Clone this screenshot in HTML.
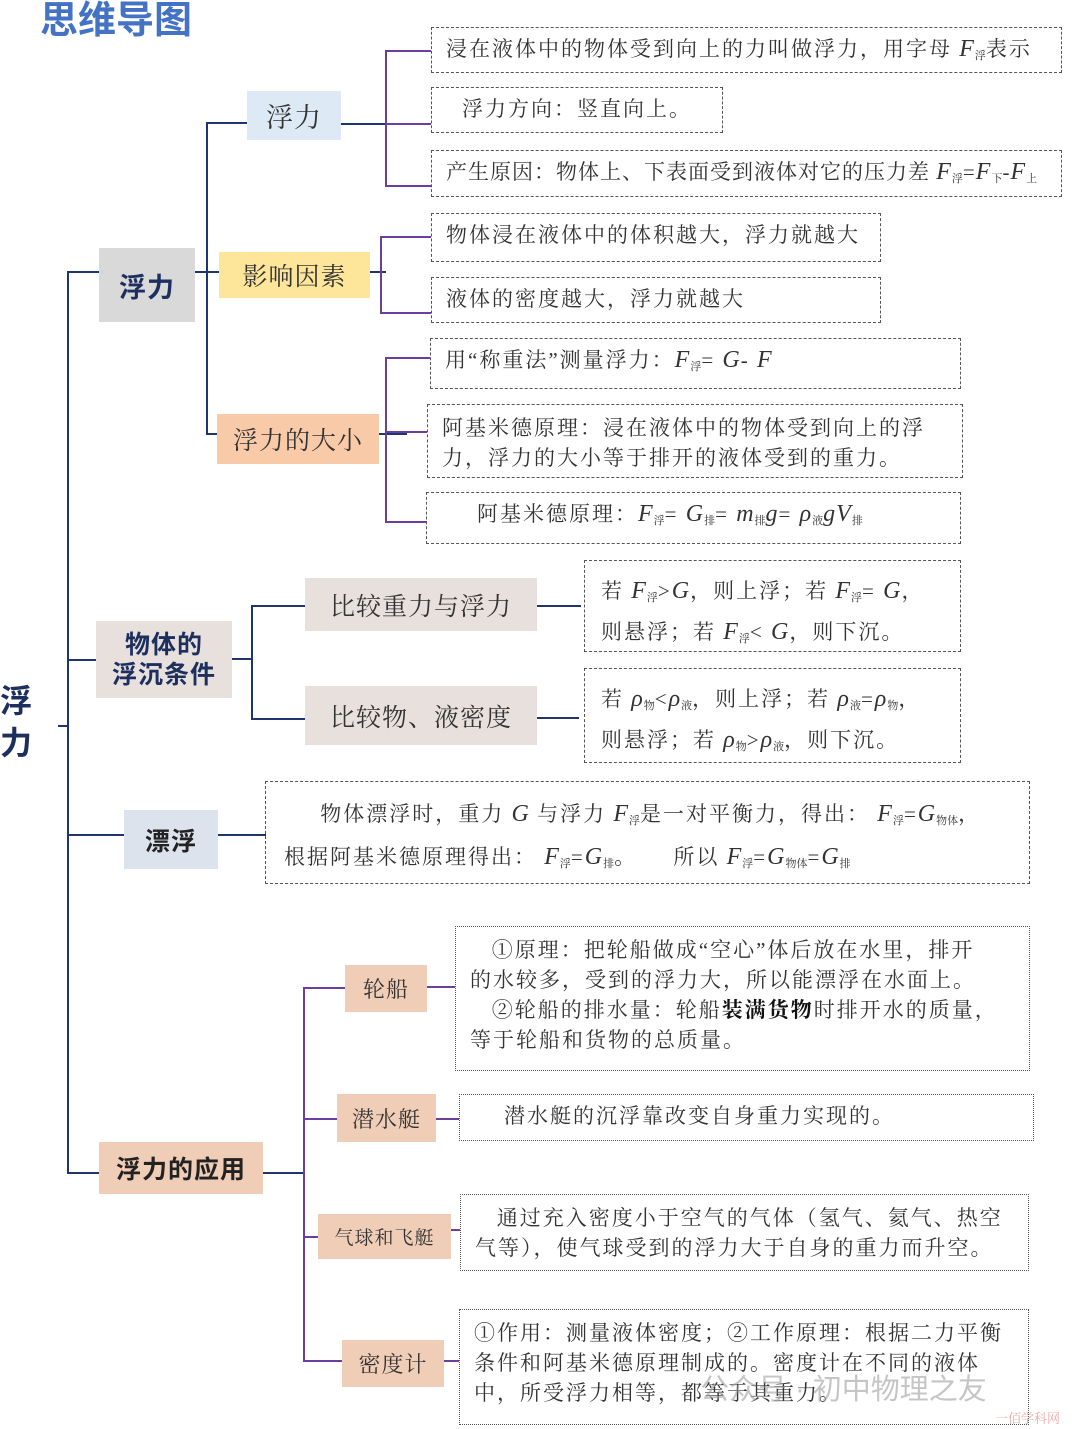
<!DOCTYPE html>
<html><head><meta charset="utf-8">
<style>
body{margin:0;width:1080px;height:1429px;background:#fff;position:relative;overflow:hidden;font-family:"Liberation Serif","Noto Serif CJK SC",serif;color:#333}
div{position:absolute;box-sizing:border-box}
.n{display:flex;align-items:center;justify-content:center;font-size:25px;color:#333;white-space:nowrap;letter-spacing:1px}
.b{font-family:"Liberation Sans","Noto Sans CJK SC",sans-serif;font-weight:bold;color:#1d2f5e}
.t{border:1.5px dashed #555;font-size:21px;line-height:30px;padding:6px 14px;color:#333;white-space:nowrap;letter-spacing:2px}
.d{border-style:dotted}
.h{height:2px;background:#1f3570}
.v{width:2px;background:#1f3570}
.ph{height:2px;background:#6a3fa0}
.pv{width:2px;background:#6a3fa0}
i{font-family:"Liberation Serif",serif;font-style:italic;font-size:24px;letter-spacing:1px}
sub{font-size:11px;vertical-align:-3px;letter-spacing:0}
</style></head><body>
<div style="left:40px;top:-2px;font-size:38px;font-weight:bold;color:#4472c4;font-family:'Liberation Sans','Noto Sans CJK SC',sans-serif;line-height:46px">思维导图</div>
<div class="b" style="left:0;top:680px;width:36px;font-size:32px;line-height:42px">浮<br>力</div>
<div class="h" style="left:58px;top:725px;width:11px"></div>
<div class="v" style="left:67px;top:271px;height:903px"></div>
<div class="h" style="left:67px;top:271px;width:33px"></div>
<div class="h" style="left:67px;top:659px;width:30px"></div>
<div class="h" style="left:67px;top:834px;width:58px"></div>
<div class="h" style="left:67px;top:1172px;width:33px"></div>

<div class="n b" style="left:99px;top:248px;width:96px;height:74px;background:#d9d9d9;font-size:27px">浮力</div>
<div class="h" style="left:195px;top:271px;width:24px"></div>
<div class="v" style="left:206px;top:122px;height:312px"></div>
<div class="h" style="left:206px;top:122px;width:41px"></div>
<div class="h" style="left:206px;top:433px;width:12px"></div>
<div class="n" style="left:247px;top:91px;width:94px;height:49px;background:#dde9f5;font-size:27px">浮力</div>
<div class="n" style="left:219px;top:252px;width:151px;height:46px;background:#fde699">影响因素</div>
<div class="n" style="left:217px;top:414px;width:162px;height:50px;background:#f8caa8">浮力的大小</div>

<div class="h" style="left:341px;top:123px;width:46px"></div>
<div class="pv" style="left:385px;top:50px;height:137px"></div>
<div class="ph" style="left:385px;top:50px;width:46px"></div>
<div class="ph" style="left:385px;top:123px;width:46px"></div>
<div class="ph" style="left:385px;top:185px;width:46px"></div>
<div class="t" style="left:431px;top:27px;width:631px;height:46px">浸在液体中的物体受到向上的力叫做浮力，用字母 <i>F</i><sub>浮</sub>表示</div>
<div class="t" style="left:431px;top:87px;width:292px;height:46px;padding-left:30px">浮力方向：竖直向上。</div>
<div class="t" style="left:431px;top:150px;width:631px;height:47px;letter-spacing:1px">产生原因：物体上、下表面受到液体对它的压力差 <i>F</i><sub>浮</sub>=<i>F</i><sub>下</sub>-<i>F</i><sub>上</sub></div>

<div class="h" style="left:370px;top:271px;width:16px"></div>
<div class="pv" style="left:380px;top:236px;height:78px"></div>
<div class="ph" style="left:380px;top:236px;width:51px"></div>
<div class="ph" style="left:380px;top:312px;width:51px"></div>
<div class="t" style="left:431px;top:213px;width:450px;height:49px">物体浸在液体中的体积越大，浮力就越大</div>
<div class="t" style="left:431px;top:277px;width:450px;height:46px">液体的密度越大，浮力就越大</div>

<div class="h" style="left:379px;top:433px;width:28px"></div>
<div class="pv" style="left:385px;top:357px;height:166px"></div>
<div class="ph" style="left:385px;top:357px;width:45px"></div>
<div class="ph" style="left:385px;top:431px;width:42px"></div>
<div class="ph" style="left:385px;top:521px;width:42px"></div>
<div class="t" style="left:430px;top:338px;width:531px;height:51px">用“称重法”测量浮力：<i>F</i><sub>浮</sub>= <i>G</i>- <i>F</i></div>
<div class="t" style="left:427px;top:404px;width:536px;height:74px;padding:8px 14px">阿基米德原理：浸在液体中的物体受到向上的浮<br>力，浮力的大小等于排开的液体受到的重力。</div>
<div class="t" style="left:426px;top:492px;width:535px;height:52px;padding-left:50px">阿基米德原理：<i>F</i><sub>浮</sub>= <i>G</i><sub>排</sub>= <i>m</i><sub>排</sub><i>g</i>= <i>ρ</i><sub>液</sub><i>gV</i><sub>排</sub></div>

<div class="n b" style="left:96px;top:621px;width:136px;height:77px;background:#e8e0dd;font-size:25px;line-height:30px;white-space:normal;text-align:center">物体的<br>浮沉条件</div>
<div class="h" style="left:232px;top:658px;width:20px"></div>
<div class="v" style="left:251px;top:605px;height:115px"></div>
<div class="h" style="left:251px;top:605px;width:54px"></div>
<div class="h" style="left:251px;top:718px;width:54px"></div>
<div class="n" style="left:305px;top:578px;width:232px;height:53px;background:#e8e0dd">比较重力与浮力</div>
<div class="n" style="left:305px;top:686px;width:232px;height:59px;background:#e8e0dd">比较物、液密度</div>
<div class="h" style="left:537px;top:605px;width:44px"></div>
<div class="h" style="left:537px;top:717px;width:42px"></div>
<div class="t" style="left:584px;top:560px;width:377px;height:92px;padding:13px 16px;line-height:34px">若 <i>F</i><sub>浮</sub>&gt;<i>G</i>，则上浮；若 <i>F</i><sub>浮</sub>= <i>G</i>，<br>则悬浮；若 <i>F</i><sub>浮</sub>&lt; <i>G</i>，则下沉。</div>
<div class="t" style="left:584px;top:668px;width:377px;height:95px;padding:13px 16px;line-height:34px">若 <i>ρ</i><sub>物</sub>&lt;<i>ρ</i><sub>液</sub>，则上浮；若 <i>ρ</i><sub>液</sub>=<i>ρ</i><sub>物</sub>，<br>则悬浮；若 <i>ρ</i><sub>物</sub>&gt;<i>ρ</i><sub>液</sub>，则下沉。</div>

<div class="n b" style="left:124px;top:810px;width:94px;height:59px;background:#dce3ed;color:#222">漂浮</div>
<div class="h" style="left:218px;top:834px;width:48px"></div>
<div class="t" style="left:265px;top:781px;width:765px;height:103px;padding:14px 18px;line-height:36px">&nbsp;&nbsp;&nbsp;&nbsp;&nbsp;物体漂浮时，重力 <i>G</i> 与浮力 <i>F</i><sub>浮</sub>是一对平衡力，得出：&nbsp;<i>F</i><sub>浮</sub>=<i>G</i><sub>物体</sub>，<br>根据阿基米德原理得出：&nbsp;<i>F</i><sub>浮</sub>=<i>G</i><sub>排</sub>。&nbsp;&nbsp;&nbsp;&nbsp;&nbsp;所以 <i>F</i><sub>浮</sub>=<i>G</i><sub>物体</sub>=<i>G</i><sub>排</sub></div>

<div class="n b" style="left:99px;top:1142px;width:164px;height:52px;background:#f0cdb7;color:#222">浮力的应用</div>
<div class="h" style="left:263px;top:1172px;width:42px"></div>
<div class="pv" style="left:303px;top:987px;height:374px"></div>
<div class="ph" style="left:303px;top:987px;width:42px"></div>
<div class="ph" style="left:303px;top:1118px;width:34px"></div>
<div class="ph" style="left:303px;top:1236px;width:15px"></div>
<div class="ph" style="left:303px;top:1360px;width:39px"></div>
<div class="n" style="left:345px;top:965px;width:82px;height:47px;background:#f0cdb7;font-size:22px">轮船</div>
<div class="n" style="left:337px;top:1094px;width:99px;height:48px;background:#f0cdb7;font-size:22px">潜水艇</div>
<div class="n" style="left:318px;top:1214px;width:133px;height:45px;background:#f0cdb7;font-size:19px">气球和飞艇</div>
<div class="n" style="left:342px;top:1340px;width:102px;height:47px;background:#f0cdb7;font-size:22px">密度计</div>
<div class="ph" style="left:427px;top:986px;width:28px"></div>
<div class="ph" style="left:436px;top:1118px;width:23px"></div>
<div class="ph" style="left:451px;top:1229px;width:9px"></div>
<div class="ph" style="left:444px;top:1360px;width:15px"></div>
<div class="t d" style="left:455px;top:926px;width:575px;height:145px;padding:8px 14px">&nbsp;&nbsp;&nbsp;①原理：把轮船做成“空心”体后放在水里，排开<br>的水较多，受到的浮力大，所以能漂浮在水面上。<br>&nbsp;&nbsp;&nbsp;②轮船的排水量：轮船<b style="color:#111">装满货物</b>时排开水的质量，<br>等于轮船和货物的总质量。</div>
<div class="t d" style="left:459px;top:1094px;width:575px;height:47px;padding-left:44px">潜水艇的沉浮靠改变自身重力实现的。</div>
<div class="t d" style="left:460px;top:1194px;width:569px;height:77px;padding:8px 14px">&nbsp;&nbsp;&nbsp;通过充入密度小于空气的气体（氢气、氦气、热空<br>气等），使气球受到的浮力大于自身的重力而升空。</div>
<div class="t d" style="left:459px;top:1309px;width:570px;height:116px;padding:8px 14px">①作用：测量液体密度；②工作原理：根据二力平衡<br>条件和阿基米德原理制成的。密度计在不同的液体<br>中，所受浮力相等，都等于其重力。</div>
<div style="left:700px;top:1366px;font-size:29px;color:rgba(150,150,150,0.55);font-family:'Liberation Sans','Noto Sans CJK SC',sans-serif">公众号 · 初中物理之友</div>
<div style="left:995px;top:1408px;font-size:13px;color:rgba(220,80,80,0.5)">一佰学科网</div>
</body></html>
